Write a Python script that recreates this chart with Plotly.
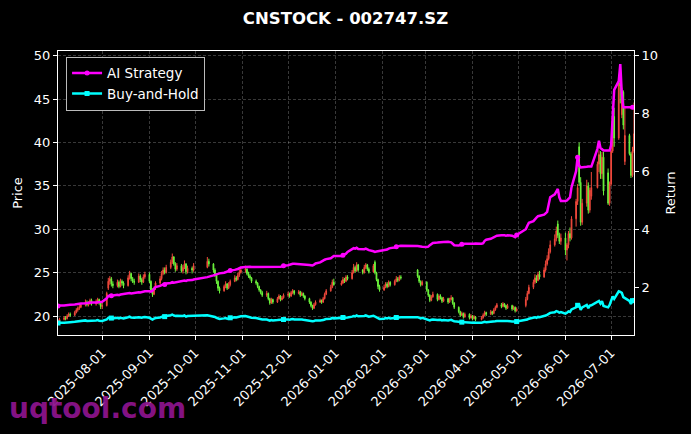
import pandas as pd
import plotly.graph_objects as go

# trading days (SZSE calendar: weekdays minus exchange holidays)
start_day = "2025-07-03"
end_day = "2026-07-16"
holidays = ["2025-10-01", "2025-10-02", "2025-10-03", "2025-10-06", "2025-10-07", "2025-10-08",
            "2026-01-01", "2026-01-02",
            "2026-02-16", "2026-02-17", "2026-02-18", "2026-02-19", "2026-02-20", "2026-02-23",
            "2026-04-06", "2026-05-01", "2026-05-04", "2026-05-05", "2026-06-19"]
dates = [d for d in pd.bdate_range(start_day, end_day) if d.strftime("%Y-%m-%d") not in holidays]

# one line per month, Jul 2025 .. Jul 2026
opens = [
    19.2, 19.4, 19.6, 19.8, 19.7, 20.0, 20.2, 20.1, 20.4, 20.7, 20.9, 21.0, 21.3, 21.6, 21.3, 21.5, 21.8, 21.4, 21.6, 21.9, 21.5,
    21.1, 21.2, 23.2, 24.0, 24.3, 23.7, 23.5, 23.9, 23.4, 24.0, 23.8, 23.5, 24.4, 24.9, 24.3, 24.0, 23.9, 24.6, 24.2, 23.9, 24.5,
    24.8, 24.0, 23.0, 22.5, 23.2, 23.8, 24.3, 24.9, 25.3, 25.0, 25.6, 26.2, 26.8, 26.0, 25.4, 25.8, 25.2, 25.6, 26.0, 25.1, 25.5, 25.3,
    25.6, 26.3, 26.0, 25.3, 24.8, 24.0, 23.2, 22.9, 23.4, 23.7, 23.2, 23.6, 24.0, 24.4, 24.2, 24.7, 25.0,
    25.3, 25.4, 24.9, 24.6, 24.4, 24.0, 23.8, 23.4, 23.0, 22.7, 22.4, 22.6, 22.0, 21.5, 21.9, 21.6, 22.0, 22.3, 21.9, 22.1,
    22.4, 22.5, 22.3, 22.7, 22.9, 22.6, 22.8, 22.4, 22.6, 22.3, 22.0, 21.6, 21.2, 20.9, 21.3, 21.6, 21.8, 21.6, 22.0, 22.5, 22.9, 23.3, 23.9,
    23.6, 23.8, 24.2, 24.0, 24.5, 24.3, 25.0, 25.6, 25.2, 25.9, 25.3, 25.0, 25.6, 25.9, 25.4, 25.1, 26.2, 25.0, 24.2, 23.4,
    23.0, 23.3, 23.7, 23.4, 23.9, 23.6, 24.0, 24.3, 24.1, 24.5, 25.3, 24.6, 24.0, 23.6,
    23.9, 23.0, 22.4, 21.8, 22.2, 22.5, 21.9, 22.3, 22.1, 21.7, 22.0, 21.6, 21.9, 22.1, 21.5, 21.0, 20.5, 20.1, 20.3, 19.9, 20.2, 19.8,
    20.0, 19.7, 19.9, 19.6, 19.8, 20.1, 20.4, 20.2, 20.5, 20.3, 20.7, 21.0, 21.3, 21.1, 21.4, 21.2, 20.9, 21.2, 20.8, 21.0, 20.6,
    21.2, 21.9, 22.6, 23.3, 23.9, 24.4, 24.1, 24.8, 24.5, 25.3, 26.0, 26.6, 27.4, 28.2, 28.9, 30.6, 29.3, 28.6,
    29.0, 27.6, 28.2, 29.5, 29.0, 31.2, 33.2, 39.5, 35.4, 30.8, 33.0, 35.0, 32.2, 33.8, 34.8, 37.5, 38.6, 36.4, 38.3, 36.5, 33.0,
    35.2, 39.0, 43.0, 40.5, 46.9, 43.2, 45.8, 37.8, 40.8, 38.7, 36.2, 39.0,
]
highs = [
    19.6, 19.8, 20.0, 20.0, 20.2, 20.4, 20.4, 20.6, 20.9, 21.1, 21.3, 21.5, 21.9, 21.8, 21.7, 22.0, 22.0, 21.9, 22.1, 22.0, 21.7,
    21.5, 22.8, 24.4, 24.6, 24.5, 24.0, 24.2, 24.1, 24.3, 24.2, 24.0, 24.7, 25.2, 25.0, 24.5, 24.3, 24.9, 24.8, 24.4, 24.8, 25.1,
    25.0, 24.1, 23.2, 23.4, 24.0, 24.6, 25.2, 25.6, 25.6, 25.9, 26.5, 27.2, 26.9, 26.2, 26.1, 26.0, 25.9, 26.4, 26.1, 25.8, 25.7, 26.1,
    26.8, 26.6, 26.1, 25.5, 24.9, 24.1, 23.4, 23.6, 24.0, 23.8, 23.9, 24.2, 24.7, 24.6, 25.0, 25.4, 25.7,
    25.8, 25.5, 25.1, 24.8, 24.5, 24.2, 23.9, 23.5, 23.1, 22.9, 22.9, 22.7, 22.1, 22.1, 22.0, 22.2, 22.5, 22.4, 22.3, 22.6,
    22.8, 22.7, 22.9, 23.1, 23.0, 23.0, 22.9, 22.8, 22.7, 22.4, 22.1, 21.7, 21.3, 21.5, 21.8, 22.0, 21.9, 22.2, 22.7, 23.1, 23.6, 24.2, 24.3,
    24.1, 24.5, 24.4, 24.7, 24.7, 25.3, 26.0, 25.8, 26.2, 26.0, 25.4, 25.9, 26.1, 26.0, 25.6, 26.0, 26.4, 25.1, 24.3, 23.6,
    23.6, 23.9, 23.9, 24.1, 24.0, 24.2, 24.6, 24.5, 24.7, 24.7, 25.4, 24.7, 24.1, 24.1,
    24.0, 23.1, 22.5, 22.4, 22.8, 22.6, 22.5, 22.5, 22.2, 22.2, 22.1, 22.1, 22.4, 22.2, 21.6, 21.1, 20.6, 20.5, 20.4, 20.4, 20.3, 20.2,
    20.1, 20.1, 20.0, 20.0, 20.3, 20.6, 20.5, 20.7, 20.6, 20.9, 21.2, 21.5, 21.5, 21.6, 21.5, 21.3, 21.4, 21.3, 21.2, 21.1, 21.0,
    22.2, 22.9, 23.6, 24.2, 24.8, 24.7, 25.1, 25.2, 25.6, 26.4, 27.0, 27.8, 28.7, 29.4, 30.3, 31.0, 29.6, 29.5,
    29.6, 28.4, 29.8, 30.2, 31.5, 33.5, 35.2, 40.0, 36.0, 33.5, 35.7, 35.4, 34.8, 36.6, 37.8, 39.1, 39.0, 38.9, 38.9, 37.0, 35.5,
    39.5, 43.2, 44.0, 47.8, 48.6, 46.3, 46.0, 44.0, 41.0, 38.9, 39.5, 44.6,
]
lows = [
    19.0, 19.3, 19.5, 19.5, 19.6, 19.9, 19.9, 20.0, 20.3, 20.5, 20.7, 20.9, 21.1, 21.1, 21.1, 21.3, 21.2, 21.2, 21.4, 21.3, 20.8,
    20.8, 21.1, 23.0, 23.6, 23.4, 23.2, 23.3, 23.2, 23.3, 23.5, 23.2, 23.4, 24.2, 24.0, 23.8, 23.6, 23.8, 23.9, 23.6, 23.8, 24.3,
    23.8, 22.8, 22.2, 22.4, 23.0, 23.6, 24.1, 24.7, 24.8, 24.9, 25.4, 26.0, 25.8, 25.1, 25.2, 25.0, 24.9, 25.4, 24.8, 24.9, 24.9, 25.1,
    25.5, 25.7, 25.0, 24.5, 23.7, 22.9, 22.6, 22.8, 23.2, 23.0, 23.1, 23.4, 23.9, 24.0, 24.1, 24.5, 24.9,
    25.0, 24.7, 24.4, 24.2, 23.8, 23.6, 23.2, 22.8, 22.5, 22.2, 22.2, 21.8, 21.3, 21.4, 21.4, 21.5, 21.9, 21.7, 21.8, 22.0,
    22.2, 22.1, 22.2, 22.5, 22.4, 22.5, 22.2, 22.3, 22.1, 21.8, 21.4, 21.0, 20.7, 20.8, 21.2, 21.5, 21.4, 21.5, 21.9, 22.4, 22.8, 23.2, 23.5,
    23.5, 23.7, 23.8, 23.9, 24.1, 24.2, 24.9, 25.0, 25.1, 25.1, 24.8, 24.9, 25.4, 25.2, 24.9, 25.0, 24.8, 24.0, 23.1, 22.8,
    22.9, 23.2, 23.2, 23.3, 23.4, 23.5, 23.9, 23.9, 24.0, 24.2, 24.4, 23.8, 23.4, 23.5,
    22.8, 22.2, 21.6, 21.7, 22.1, 21.7, 21.8, 21.9, 21.5, 21.6, 21.4, 21.5, 21.8, 21.3, 20.8, 20.3, 19.9, 20.0, 19.7, 19.8, 19.6, 19.7,
    19.5, 19.6, 19.4, 19.5, 19.7, 20.0, 20.0, 20.1, 20.1, 20.2, 20.6, 20.9, 20.9, 21.0, 21.0, 20.7, 20.8, 20.6, 20.7, 20.4, 20.5,
    21.0, 21.8, 22.5, 23.1, 23.7, 23.8, 24.0, 24.2, 24.4, 25.1, 25.8, 26.4, 27.2, 28.0, 28.6, 29.0, 28.3, 28.2,
    27.0, 26.4, 27.8, 28.6, 28.8, 30.3, 32.8, 35.0, 30.4, 30.5, 32.6, 31.8, 31.9, 33.4, 34.7, 36.6, 35.8, 35.8, 33.9, 32.8, 32.7,
    35.0, 38.8, 39.5, 40.3, 44.5, 42.8, 41.5, 37.4, 38.5, 35.9, 36.0, 38.8,
]
closes = [
    19.4, 19.6, 19.8, 19.7, 20.0, 20.2, 20.1, 20.4, 20.7, 20.9, 21.0, 21.3, 21.6, 21.3, 21.5, 21.8, 21.4, 21.6, 21.9, 21.5, 21.1,
    21.2, 22.6, 24.0, 24.3, 23.7, 23.5, 23.9, 23.4, 24.0, 23.8, 23.5, 24.4, 24.9, 24.3, 24.0, 23.9, 24.6, 24.2, 23.9, 24.5, 24.8,
    24.0, 23.0, 22.5, 23.2, 23.8, 24.3, 24.9, 25.3, 25.0, 25.6, 26.2, 26.8, 26.0, 25.4, 25.8, 25.2, 25.6, 26.0, 25.1, 25.5, 25.3, 25.8,
    26.3, 26.0, 25.3, 24.8, 24.0, 23.2, 22.9, 23.4, 23.7, 23.2, 23.6, 24.0, 24.4, 24.2, 24.7, 25.0, 25.3,
    25.4, 24.9, 24.6, 24.4, 24.0, 23.8, 23.4, 23.0, 22.7, 22.4, 22.6, 22.0, 21.5, 21.9, 21.6, 22.0, 22.3, 21.9, 22.1, 22.4,
    22.5, 22.3, 22.7, 22.9, 22.6, 22.8, 22.4, 22.6, 22.3, 22.0, 21.6, 21.2, 20.9, 21.3, 21.6, 21.8, 21.6, 22.0, 22.5, 22.9, 23.3, 23.9, 23.6,
    23.8, 24.2, 24.0, 24.5, 24.3, 25.0, 25.6, 25.2, 25.9, 25.3, 25.0, 25.6, 25.9, 25.4, 25.1, 25.8, 25.0, 24.2, 23.4, 23.0,
    23.3, 23.7, 23.4, 23.9, 23.6, 24.0, 24.3, 24.1, 24.5, 24.4, 24.6, 24.0, 23.6, 23.9,
    23.0, 22.4, 21.8, 22.2, 22.5, 21.9, 22.3, 22.1, 21.7, 22.0, 21.6, 21.9, 22.1, 21.5, 21.0, 20.5, 20.1, 20.3, 19.9, 20.2, 19.8, 20.0,
    19.7, 19.9, 19.6, 19.8, 20.1, 20.4, 20.2, 20.5, 20.3, 20.7, 21.0, 21.3, 21.1, 21.4, 21.2, 20.9, 21.2, 20.8, 21.0, 20.6, 20.8,
    21.9, 22.6, 23.3, 23.9, 24.4, 24.1, 24.8, 24.5, 25.3, 26.0, 26.6, 27.4, 28.2, 28.9, 29.8, 29.3, 28.6, 29.0,
    27.6, 28.2, 29.5, 29.0, 31.2, 33.2, 34.8, 35.4, 30.8, 33.0, 35.0, 32.2, 34.5, 34.8, 37.5, 38.6, 36.4, 38.3, 34.4, 33.0, 35.2,
    39.0, 42.8, 40.5, 46.9, 46.5, 45.8, 42.0, 40.8, 38.7, 36.2, 39.0, 41.0,
]
ai_strategy = [
    1.36, 1.37, 1.37, 1.38, 1.39, 1.40, 1.40, 1.41, 1.42, 1.43, 1.43, 1.44, 1.45, 1.46, 1.46, 1.47, 1.48, 1.48, 1.49, 1.50, 1.49,
    1.50, 1.62, 1.70, 1.72, 1.71, 1.72, 1.74, 1.73, 1.75, 1.76, 1.75, 1.78, 1.80, 1.79, 1.80, 1.81, 1.83, 1.82, 1.83, 1.85, 1.86,
    1.86, 1.85, 1.88, 1.95, 2.01, 2.05, 2.08, 2.10, 2.10, 2.13, 2.15, 2.18, 2.16, 2.17, 2.19, 2.20, 2.22, 2.23, 2.22, 2.24, 2.25, 2.27,
    2.35, 2.36, 2.41, 2.43, 2.45, 2.47, 2.48, 2.50, 2.52, 2.53, 2.55, 2.58, 2.60, 2.61, 2.63, 2.66, 2.68,
    2.70, 2.71, 2.70, 2.71, 2.70, 2.70, 2.71, 2.70, 2.69, 2.70, 2.70, 2.71, 2.70, 2.69, 2.70, 2.71, 2.70, 2.71, 2.72, 2.74,
    2.76, 2.78, 2.80, 2.81, 2.81, 2.80, 2.81, 2.80, 2.79, 2.78, 2.77, 2.76, 2.75, 2.78, 2.82, 2.86, 2.88, 2.92, 2.95, 2.97, 3.00, 3.05, 3.08,
    3.08, 3.10, 3.12, 3.16, 3.22, 3.30, 3.35, 3.33, 3.36, 3.32, 3.30, 3.31, 3.33, 3.30, 3.28, 3.24, 3.22, 3.23, 3.24, 3.26,
    3.27, 3.29, 3.30, 3.33, 3.35, 3.37, 3.40, 3.41, 3.42, 3.43, 3.42, 3.41, 3.40, 3.40,
    3.39, 3.40, 3.45, 3.50, 3.53, 3.54, 3.55, 3.56, 3.55, 3.56, 3.57, 3.56, 3.55, 3.50, 3.45, 3.44, 3.46, 3.48, 3.49, 3.50, 3.50, 3.51,
    3.50, 3.50, 3.51, 3.50, 3.52, 3.60, 3.64, 3.67, 3.70, 3.73, 3.76, 3.78, 3.79, 3.80, 3.79, 3.78, 3.79, 3.78, 3.76, 3.73, 3.80,
    4.00, 4.12, 4.22, 4.28, 4.36, 4.40, 4.45, 4.46, 4.50, 4.55, 4.60, 4.85, 5.10, 5.20, 5.30, 5.39, 5.10, 4.97,
    4.97, 4.99, 5.05, 5.10, 5.45, 6.00, 6.48, 6.19, 6.13, 6.13, 6.15, 6.16, 6.16, 6.16, 6.77, 7.05, 6.80, 6.75, 6.71, 6.71, 6.71,
    6.90, 8.10, 8.80, 9.10, 9.69, 8.66, 8.20, 8.20, 8.20, 8.20, 8.20, 8.20,
]
buy_hold = [
    0.77, 0.78, 0.78, 0.78, 0.79, 0.80, 0.80, 0.81, 0.82, 0.83, 0.83, 0.84, 0.86, 0.84, 0.85, 0.86, 0.85, 0.86, 0.87, 0.85, 0.84,
    0.84, 0.89, 0.95, 0.96, 0.94, 0.93, 0.95, 0.93, 0.95, 0.94, 0.93, 0.97, 0.99, 0.96, 0.95, 0.95, 0.97, 0.96, 0.95, 0.97, 0.98,
    0.95, 0.91, 0.89, 0.92, 0.94, 0.96, 0.99, 1.00, 0.99, 1.01, 1.04, 1.06, 1.03, 1.01, 1.02, 1.00, 1.01, 1.03, 0.99, 1.01, 1.00, 1.02,
    1.04, 1.03, 1.00, 0.98, 0.95, 0.92, 0.91, 0.93, 0.94, 0.92, 0.93, 0.95, 0.97, 0.96, 0.98, 0.99, 1.00,
    1.01, 0.99, 0.97, 0.97, 0.95, 0.94, 0.93, 0.91, 0.90, 0.89, 0.89, 0.87, 0.85, 0.87, 0.86, 0.87, 0.88, 0.87, 0.88, 0.89,
    0.89, 0.88, 0.90, 0.91, 0.89, 0.90, 0.89, 0.89, 0.88, 0.87, 0.86, 0.84, 0.83, 0.84, 0.86, 0.86, 0.86, 0.87, 0.89, 0.91, 0.92, 0.95, 0.93,
    0.94, 0.96, 0.95, 0.97, 0.96, 0.99, 1.01, 1.00, 1.03, 1.00, 0.99, 1.01, 1.03, 1.01, 0.99, 1.02, 0.99, 0.96, 0.93, 0.91,
    0.92, 0.94, 0.93, 0.95, 0.93, 0.95, 0.96, 0.95, 0.97, 0.97, 0.97, 0.95, 0.93, 0.95,
    0.91, 0.89, 0.86, 0.88, 0.89, 0.87, 0.88, 0.88, 0.86, 0.87, 0.86, 0.87, 0.88, 0.85, 0.83, 0.81, 0.80, 0.80, 0.79, 0.80, 0.78, 0.79,
    0.78, 0.79, 0.78, 0.78, 0.80, 0.81, 0.80, 0.81, 0.80, 0.82, 0.83, 0.84, 0.84, 0.85, 0.84, 0.83, 0.84, 0.82, 0.83, 0.82, 0.82,
    0.87, 0.89, 0.92, 0.95, 0.97, 0.95, 0.98, 0.97, 1.00, 1.03, 1.05, 1.09, 1.12, 1.14, 1.18, 1.16, 1.13, 1.15,
    1.09, 1.12, 1.17, 1.15, 1.24, 1.31, 1.38, 1.40, 1.22, 1.31, 1.39, 1.28, 1.37, 1.38, 1.49, 1.53, 1.44, 1.52, 1.36, 1.31, 1.39,
    1.54, 1.69, 1.60, 1.86, 1.84, 1.81, 1.66, 1.62, 1.53, 1.43, 1.54, 1.62,
]

for name, arr in [("opens", opens), ("highs", highs), ("lows", lows), ("closes", closes),
                  ("ai_strategy", ai_strategy), ("buy_hold", buy_hold)]:
    if len(arr) != len(dates):
        raise SystemExit("%s has %d values, dates %d" % (name, len(arr), len(dates)))

FONT = "DejaVu Sans"
EVERY = 25  # a marker on every 25th point, like markevery

fig = go.Figure()

fig.add_trace(go.Candlestick(
    x=dates, open=opens, high=highs, low=lows, close=closes,
    increasing=dict(line=dict(color="#f0493c", width=1), fillcolor="#f0493c"),
    decreasing=dict(line=dict(color="#6cf53c", width=1), fillcolor="#6cf53c"),
    whiskerwidth=0, showlegend=False, hoverinfo="skip",
))

for name, vals, color, sym in [("AI Strategy", ai_strategy, "#ff00ff", "circle"),
                               ("Buy-and-Hold", buy_hold, "#00ffff", "square")]:
    fig.add_trace(go.Scatter(
        x=dates, y=vals, yaxis="y2", mode="lines", showlegend=False,
        line=dict(color=color, width=2.5),
    ))
    fig.add_trace(go.Scatter(
        x=dates[::EVERY], y=vals[::EVERY], yaxis="y2", mode="markers", showlegend=False,
        marker=dict(size=5, symbol=sym, color=color, line=dict(width=0)),
    ))
    # legend entry only
    fig.add_trace(go.Scatter(
        x=[None], y=[None], yaxis="y2", mode="lines+markers", name=name,
        line=dict(color=color, width=2.5),
        marker=dict(size=5, symbol=sym, color=color, line=dict(width=0)),
    ))

grid = "rgba(255,255,255,0.22)"
fig.update_layout(
    width=691, height=434,
    paper_bgcolor="black", plot_bgcolor="black",
    margin=dict(l=58, r=57, t=51, b=99),
    font=dict(family=FONT, color="white", size=13),
    title=dict(text="<b>CNSTOCK - 002747.SZ</b>", x=0.5, xanchor="center",
               y=1 - 18 / 434, yanchor="middle", yref="container",
               font=dict(family=FONT, size=16.5, color="white")),
    xaxis=dict(
        type="date", range=[start_day, end_day],
        tickformat="%Y-%m-%d", dtick="M1", tick0="2025-08-01", tickangle=-45,
        tickfont=dict(size=13),
        showgrid=True, gridcolor=grid, gridwidth=0.6, griddash="3px,2px",
        showline=True, linecolor="white", linewidth=1.2, mirror=True,
        ticks="outside", ticklen=4, tickcolor="white",
        rangeslider=dict(visible=False), zeroline=False,
    ),
    yaxis=dict(
        range=[17.81, 50.54], dtick=5, tick0=20,
        tickfont=dict(size=13),
        title=dict(text="Price", standoff=8, font=dict(size=13)),
        showgrid=True, gridcolor=grid, gridwidth=0.6, griddash="3px,2px",
        showline=True, linecolor="white", linewidth=1.2, mirror=True,
        ticks="outside", ticklen=4, tickcolor="white", zeroline=False,
    ),
    yaxis2=dict(
        range=[0.357, 10.14], dtick=2, tick0=2, overlaying="y", side="right",
        tickfont=dict(size=13),
        title=dict(text="Return", standoff=8, font=dict(size=13)),
        showgrid=False, zeroline=False, showline=False,
        ticks="outside", ticklen=4, tickcolor="white",
    ),
    legend=dict(
        x=0.014, y=0.98, xanchor="left", yanchor="top",
        bgcolor="black", bordercolor="#bbbbbb", borderwidth=1,
        font=dict(family=FONT, size=13.5, color="white"),
        tracegroupgap=2,
    ),
    showlegend=True,
)

fig.add_annotation(
    text="<b>uqtool.com</b>", xref="paper", yref="paper",
    x=(97 - 58) / 576, y=-(408 - 335) / 284, xanchor="center", yanchor="middle",
    showarrow=False, font=dict(family=FONT, size=28, color="rgba(140,20,140,0.95)"),
)

fig.write_html("out.html", config={"displayModeBar": False},
               post_script="document.body.style.margin='0';")
